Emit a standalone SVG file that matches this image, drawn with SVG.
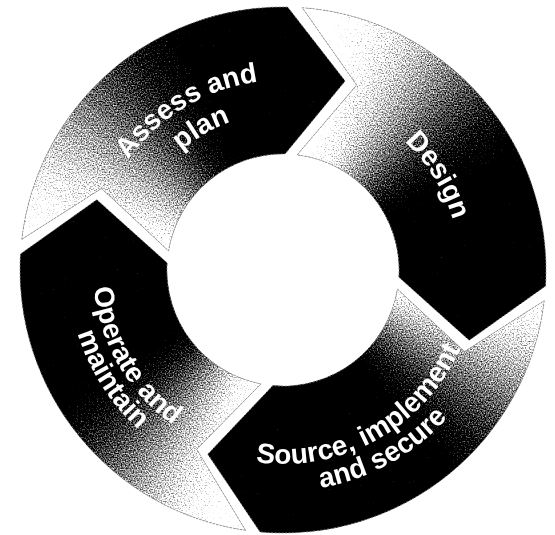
<svg xmlns="http://www.w3.org/2000/svg" xmlns:xlink="http://www.w3.org/1999/xlink" width="555" height="535" viewBox="0 0 555 535">
  <style>
    .base { fill: #000000; }
    .outline { fill: none; stroke: #8c8c8c; stroke-width: 0.9; stroke-dasharray: 2 1.5; }
    .lbl { fill: #ffffff; font-family: "Liberation Sans", Arial, Helvetica, sans-serif; font-weight: bold; font-size: 28px; }
    .sw { fill: #ffffff; } .sb { fill: #000000; }
    .s0 { fill: #f7f7f7; } .s1 { fill: #e8e8e8; } .s2 { fill: #d8d8d8; } .s3 { fill: #c8c8c8; }
    .s4 { fill: #b7b7b7; } .s5 { fill: #a7a7a7; } .s6 { fill: #969696; } .s7 { fill: #858585; }
    .s8 { fill: #737373; } .s9 { fill: #616161; } .s10 { fill: #4e4e4e; } .s11 { fill: #3b3b3b; }
    .s12 { fill: #262626; } .s13 { fill: #0f0f0f; }
  </style>
  <defs>
    <filter id="grain" x="-20%" y="-20%" width="140%" height="140%" color-interpolation-filters="sRGB">
      <feGaussianBlur in="SourceGraphic" stdDeviation="4" result="b"/>
      <feTurbulence type="fractalNoise" baseFrequency="0.75" numOctaves="1" seed="7" result="n"/>
      <feColorMatrix in="n" type="matrix" values="1 0 0 0 0  1 0 0 0 0  1 0 0 0 0  0 0 0 0 1" result="ng"/>
      <feComposite in="b" in2="ng" operator="arithmetic" k1="0" k2="1" k3="1" k4="-0.5" result="m"/>
      <feComponentTransfer in="m">
        <feFuncR type="linear" slope="2" intercept="-0.5"/>
        <feFuncG type="linear" slope="2" intercept="-0.5"/>
        <feFuncB type="linear" slope="2" intercept="-0.5"/>
      </feComponentTransfer>
    </filter>
    <path id="w" d="M 283 270 L 563 270 L 561.93 294.40 Z"/>
    <path id="wb" d="M 283 270 L 583 270 L 495.13 482.13 Z"/>
    <path id="pAssess" d="M 21.8 239.3 A 263 263 0 0 1 287.6 7.0 L 345.1 81.0 L 285.0 154.0 A 116 116 0 0 0 168.6 250.9 L 101.5 188.4 Z"/>
    <path id="pDesign" d="M 302.3 7.7 A 263 263 0 0 1 545.5 286.1 L 469.2 340.3 L 398.8 277.1 A 116 116 0 0 0 297.1 154.9 L 356.6 85.1 Z"/>
    <path id="pSource" d="M 544.2 300.7 A 263 263 0 0 1 260.1 532.0 L 207.8 454.2 L 272.9 385.6 A 116 116 0 0 0 397.4 289.1 L 464.5 351.6 Z"/>
    <path id="pOperate" d="M 245.5 530.3 A 263 263 0 0 1 20.5 253.9 L 96.8 199.7 L 167.2 262.9 A 116 116 0 0 0 260.9 383.9 L 196.7 449.3 Z"/>
    <clipPath id="cAssess"><use href="#pAssess" xlink:href="#pAssess"/></clipPath>
    <clipPath id="cDesign"><use href="#pDesign" xlink:href="#pDesign"/></clipPath>
    <clipPath id="cSource"><use href="#pSource" xlink:href="#pSource"/></clipPath>
    <clipPath id="cOperate"><use href="#pOperate" xlink:href="#pOperate"/></clipPath>
    <path id="tpAssess1" d="M 93.03 273.32 A 190 190 0 0 1 375.11 103.82"/>
    <path id="tpAssess2" d="M 126 270 A 157 157 0 0 1 361.5 134.03"/>
    <path id="tpDesign" d="M 278.37 93.06 A 177 177 0 0 1 438.55 354.46"/>
    <path id="tpSource1" d="M 183.08 436.29 A 194 194 0 0 0 476.97 273.39"/>
    <path id="tpSource2" d="M 169.18 459.43 A 221 221 0 0 0 503.97 273.86"/>
    <path id="tpOperate1" d="M 118.45 175 A 190 190 0 0 0 283 460"/>
    <path id="tpOperate2" d="M 92.29 170.72 A 215 215 0 0 0 292.38 484.80"/>
  </defs>
  <rect width="555" height="535" fill="#ffffff"/>

  <g id="node-assess">
    <use href="#pAssess" xlink:href="#pAssess" class="base"/>
    <g clip-path="url(#cAssess)">
      <g filter="url(#grain)">
        <use href="#wb" xlink:href="#wb" class="sw" transform="rotate(-221 283 270)"/>
        <use href="#w" xlink:href="#w" class="s0" transform="rotate(-176 283 270)"/>
        <use href="#w" xlink:href="#w" class="s1" transform="rotate(-171.43 283 270)"/>
        <use href="#w" xlink:href="#w" class="s2" transform="rotate(-166.86 283 270)"/>
        <use href="#w" xlink:href="#w" class="s3" transform="rotate(-162.29 283 270)"/>
        <use href="#w" xlink:href="#w" class="s4" transform="rotate(-157.71 283 270)"/>
        <use href="#w" xlink:href="#w" class="s5" transform="rotate(-153.14 283 270)"/>
        <use href="#w" xlink:href="#w" class="s6" transform="rotate(-148.57 283 270)"/>
        <use href="#w" xlink:href="#w" class="s7" transform="rotate(-144 283 270)"/>
        <use href="#w" xlink:href="#w" class="s8" transform="rotate(-139.43 283 270)"/>
        <use href="#w" xlink:href="#w" class="s9" transform="rotate(-134.86 283 270)"/>
        <use href="#w" xlink:href="#w" class="s10" transform="rotate(-130.29 283 270)"/>
        <use href="#w" xlink:href="#w" class="s11" transform="rotate(-125.71 283 270)"/>
        <use href="#w" xlink:href="#w" class="s12" transform="rotate(-121.14 283 270)"/>
        <use href="#w" xlink:href="#w" class="s13" transform="rotate(-116.57 283 270)"/>
        <use href="#wb" xlink:href="#wb" class="sb" transform="rotate(-112.5 283 270)"/>
        <use href="#wb" xlink:href="#wb" class="sb" transform="rotate(-72 283 270)"/>
      </g>
    </g>
    <use href="#pAssess" xlink:href="#pAssess" class="outline"/>
    <text class="lbl" text-anchor="middle"><textPath xlink:href="#tpAssess1" href="#tpAssess1" startOffset="50%">Assess and</textPath></text>
    <text class="lbl" text-anchor="middle"><textPath xlink:href="#tpAssess2" href="#tpAssess2" startOffset="50%">plan</textPath></text>
  </g>

  <g id="node-design">
    <use href="#pDesign" xlink:href="#pDesign" class="base"/>
    <g clip-path="url(#cDesign)">
      <g filter="url(#grain)">
        <use href="#wb" xlink:href="#wb" class="sw" transform="rotate(-125 283 270)"/>
        <use href="#w" xlink:href="#w" class="s0" transform="rotate(-80 283 270)"/>
        <use href="#w" xlink:href="#w" class="s1" transform="rotate(-76.14 283 270)"/>
        <use href="#w" xlink:href="#w" class="s2" transform="rotate(-72.29 283 270)"/>
        <use href="#w" xlink:href="#w" class="s3" transform="rotate(-68.43 283 270)"/>
        <use href="#w" xlink:href="#w" class="s4" transform="rotate(-64.57 283 270)"/>
        <use href="#w" xlink:href="#w" class="s5" transform="rotate(-60.71 283 270)"/>
        <use href="#w" xlink:href="#w" class="s6" transform="rotate(-56.86 283 270)"/>
        <use href="#w" xlink:href="#w" class="s7" transform="rotate(-53 283 270)"/>
        <use href="#w" xlink:href="#w" class="s8" transform="rotate(-49.14 283 270)"/>
        <use href="#w" xlink:href="#w" class="s9" transform="rotate(-45.29 283 270)"/>
        <use href="#w" xlink:href="#w" class="s10" transform="rotate(-41.43 283 270)"/>
        <use href="#w" xlink:href="#w" class="s11" transform="rotate(-37.57 283 270)"/>
        <use href="#w" xlink:href="#w" class="s12" transform="rotate(-33.71 283 270)"/>
        <use href="#w" xlink:href="#w" class="s13" transform="rotate(-29.86 283 270)"/>
        <use href="#wb" xlink:href="#wb" class="sb" transform="rotate(-26 283 270)"/>
        <use href="#wb" xlink:href="#wb" class="sb" transform="rotate(14 283 270)"/>
      </g>
    </g>
    <use href="#pDesign" xlink:href="#pDesign" class="outline"/>
    <text class="lbl" text-anchor="middle"><textPath xlink:href="#tpDesign" href="#tpDesign" startOffset="50%">Design</textPath></text>
  </g>

  <g id="node-source">
    <use href="#pSource" xlink:href="#pSource" class="base"/>
    <g clip-path="url(#cSource)">
      <g filter="url(#grain)">
        <use href="#wb" xlink:href="#wb" class="sw" transform="rotate(-45 283 270)"/>
        <use href="#w" xlink:href="#w" class="s0" transform="rotate(0 283 270)"/>
        <use href="#w" xlink:href="#w" class="s1" transform="rotate(3.71 283 270)"/>
        <use href="#w" xlink:href="#w" class="s2" transform="rotate(7.43 283 270)"/>
        <use href="#w" xlink:href="#w" class="s3" transform="rotate(11.14 283 270)"/>
        <use href="#w" xlink:href="#w" class="s4" transform="rotate(14.86 283 270)"/>
        <use href="#w" xlink:href="#w" class="s5" transform="rotate(18.57 283 270)"/>
        <use href="#w" xlink:href="#w" class="s6" transform="rotate(22.29 283 270)"/>
        <use href="#w" xlink:href="#w" class="s7" transform="rotate(26 283 270)"/>
        <use href="#w" xlink:href="#w" class="s8" transform="rotate(29.71 283 270)"/>
        <use href="#w" xlink:href="#w" class="s9" transform="rotate(33.43 283 270)"/>
        <use href="#w" xlink:href="#w" class="s10" transform="rotate(37.14 283 270)"/>
        <use href="#w" xlink:href="#w" class="s11" transform="rotate(40.86 283 270)"/>
        <use href="#w" xlink:href="#w" class="s12" transform="rotate(44.57 283 270)"/>
        <use href="#w" xlink:href="#w" class="s13" transform="rotate(48.29 283 270)"/>
        <use href="#wb" xlink:href="#wb" class="sb" transform="rotate(52 283 270)"/>
        <use href="#wb" xlink:href="#wb" class="sb" transform="rotate(92 283 270)"/>
      </g>
    </g>
    <use href="#pSource" xlink:href="#pSource" class="outline"/>
    <text class="lbl" text-anchor="middle"><textPath xlink:href="#tpSource1" href="#tpSource1" startOffset="50%">Source, implement</textPath></text>
    <text class="lbl" text-anchor="middle"><textPath xlink:href="#tpSource2" href="#tpSource2" startOffset="50%">and secure</textPath></text>
  </g>

  <g id="node-operate">
    <use href="#pOperate" xlink:href="#pOperate" class="base"/>
    <g clip-path="url(#cOperate)">
      <g filter="url(#grain)">
        <use href="#wb" xlink:href="#wb" class="sw" transform="rotate(55 283 270)"/>
        <use href="#w" xlink:href="#w" class="s0" transform="rotate(100 283 270)"/>
        <use href="#w" xlink:href="#w" class="s1" transform="rotate(103.57 283 270)"/>
        <use href="#w" xlink:href="#w" class="s2" transform="rotate(107.14 283 270)"/>
        <use href="#w" xlink:href="#w" class="s3" transform="rotate(110.71 283 270)"/>
        <use href="#w" xlink:href="#w" class="s4" transform="rotate(114.29 283 270)"/>
        <use href="#w" xlink:href="#w" class="s5" transform="rotate(117.86 283 270)"/>
        <use href="#w" xlink:href="#w" class="s6" transform="rotate(121.43 283 270)"/>
        <use href="#w" xlink:href="#w" class="s7" transform="rotate(125 283 270)"/>
        <use href="#w" xlink:href="#w" class="s8" transform="rotate(128.57 283 270)"/>
        <use href="#w" xlink:href="#w" class="s9" transform="rotate(132.14 283 270)"/>
        <use href="#w" xlink:href="#w" class="s10" transform="rotate(135.71 283 270)"/>
        <use href="#w" xlink:href="#w" class="s11" transform="rotate(139.29 283 270)"/>
        <use href="#w" xlink:href="#w" class="s12" transform="rotate(142.86 283 270)"/>
        <use href="#w" xlink:href="#w" class="s13" transform="rotate(146.43 283 270)"/>
        <use href="#wb" xlink:href="#wb" class="sb" transform="rotate(150.5 283 270)"/>
        <use href="#wb" xlink:href="#wb" class="sb" transform="rotate(190 283 270)"/>
      </g>
    </g>
    <use href="#pOperate" xlink:href="#pOperate" class="outline"/>
    <text class="lbl" text-anchor="middle"><textPath xlink:href="#tpOperate1" href="#tpOperate1" startOffset="50%">Operate and</textPath></text>
    <text class="lbl" text-anchor="middle"><textPath xlink:href="#tpOperate2" href="#tpOperate2" startOffset="50%">maintain</textPath></text>
  </g>
</svg>
